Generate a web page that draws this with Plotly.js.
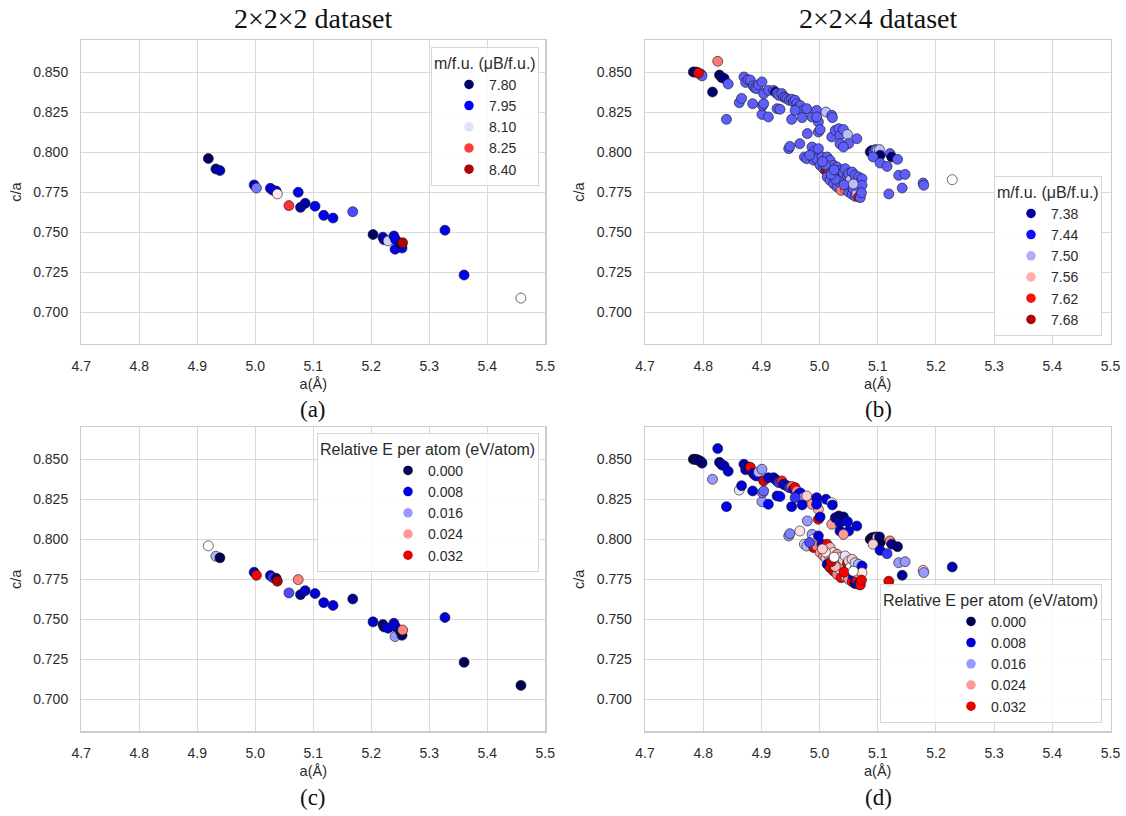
<!DOCTYPE html>
<html><head><meta charset="utf-8">
<script src="https://cdn.plot.ly/plotly-3.0.1.min.js"></script>
<style>html,body{margin:0;padding:0;background:#fff}#chart{width:1126px;height:816px}</style>
</head><body><div id="chart"></div>
<script>
// ---- 2x2x2 dataset ----
const a2 = [4.919,4.932,4.939,4.998,5.002,5.026,5.030,5.036,5.038,5.074,5.058,5.078,5.086,5.103,5.118,5.134,5.168,5.203,5.220,5.222,5.229,5.239,5.242,5.241,5.253,5.250,5.254,5.327,5.360,5.458];
const ca2 = [0.7959,0.7894,0.7884,0.7794,0.7775,0.7773,0.7761,0.7756,0.7738,0.7748,0.7665,0.7654,0.7679,0.7661,0.7604,0.7587,0.7627,0.7484,0.7467,0.7452,0.7444,0.7475,0.7452,0.7392,0.7400,0.7425,0.7433,0.7511,0.7231,0.7087];
const m2 = [7.80,7.86,7.88,7.90,8.03,7.94,7.94,7.94,8.135,7.95,8.256,7.86,7.87,7.94,7.94,7.94,8.00,7.80,7.94,7.88,8.09,7.94,7.94,7.94,7.94,7.82,8.39,7.94,7.94,8.12];
const e2 = [0.020,0.017,0.000,0.006,0.030,0.007,0.012,0.002,0.036,0.025,0.013,0.004,0.007,0.008,0.008,0.008,0.004,0.007,0.002,0.003,0.008,0.008,0.008,0.016,0.002,0.001,0.025,0.008,0.001,0.000];

// ---- 2x2x4 dataset ----
const a4 = [4.783,4.786,4.789,4.797,4.795,4.798,4.792,4.825,4.828,4.832,4.836,4.816,4.843,4.840,4.862,4.866,
4.870,4.873,4.877,4.881,4.886,4.889,4.892,4.895,4.901,4.904,4.885,4.901,4.902,4.904,4.912,4.912,4.921,4.924,4.927,4.930,
4.935,4.938,4.941,4.944,4.948,4.952,4.955,4.958,4.961,4.964,4.967,4.972,4.978,4.927,4.932,4.952,4.958,4.970,4.987,4.995,
4.998,4.995,5.011,5.021,5.022,4.979,4.998,5.001,5.021,5.027,5.033,5.035,5.041,5.048,5.050,5.064,5.035,5.041,4.947,4.949,
4.966,5.087,5.090,5.093,5.096,5.099,5.103,5.104,5.092,5.121,5.124,5.134,5.104,5.116,5.136,5.147,5.142,5.119,5.178,5.179,
5.228,4.974,4.978,4.987,4.990,4.998,4.990,4.995,5.001,5.004,5.007,5.011,5.013,5.013,5.016,5.018,5.018,5.021,5.024,5.024,
5.027,5.030,5.030,5.032,5.035,5.035,5.037,5.039,5.041,5.044,5.045,5.046,5.048,5.050,5.050,5.052,5.053,5.056,5.056,5.058,
5.060,5.061,5.061,5.064,5.064,5.067,5.067,5.070,5.070,5.073,5.073,5.072,5.010,5.027,5.042,5.020,5.005,4.983,5.025,5.058];
const ca4 = [0.8500,0.8500,0.8498,0.8483,0.8488,0.8476,0.8494,0.8567,0.8481,0.8465,0.8460,0.8375,0.8425,0.8204,0.8308,0.8335,
0.8469,0.8435,0.8452,0.8450,0.8413,0.8400,0.8396,0.8420,0.8438,0.8365,0.8302,0.8235,0.8290,0.8302,0.8219,0.8385,0.8385,0.8375,0.8365,0.8354,
0.8365,0.8344,0.8340,0.8333,0.8323,0.8330,0.8313,0.8323,0.8302,0.8281,0.8290,0.8260,0.8271,0.8271,0.8267,0.8204,0.8260,0.8215,0.8219,0.8260,
0.8188,0.8219,0.8250,0.8229,0.8215,0.8115,0.8125,0.8140,0.8094,0.8135,0.8146,0.8104,0.8140,0.8110,0.8052,0.8083,0.8052,0.8031,0.8021,0.8035,
0.8052,0.8000,0.8010,0.8000,0.8015,0.8010,0.8015,0.7979,0.7969,0.7990,0.7969,0.7954,0.7931,0.7910,0.7854,0.7860,0.7775,0.7738,0.7806,0.7792,
0.7827,0.7969,0.7958,0.8031,0.8000,0.8021,0.7948,0.7958,0.7917,0.7969,0.7896,0.7881,0.7969,0.7844,0.7900,0.7948,0.7823,0.7875,0.7917,0.7802,
0.7860,0.7906,0.7781,0.7840,0.7885,0.7810,0.7760,0.7830,0.7870,0.7896,0.7765,0.7800,0.7850,0.7865,0.7750,0.7790,0.7825,0.7875,0.7735,0.7770,
0.7810,0.7854,0.7723,0.7740,0.7790,0.7844,0.7719,0.7715,0.7813,0.7833,0.7792,0.7745,0.7920,0.7830,0.7795,0.7860,0.7940,0.7980,0.7888,0.7800];
const m4 = [7.36,7.36,7.37,7.47,7.47,7.47,7.63,7.58,7.36,7.36,7.37,7.36,7.47,7.47,7.47,7.47,
7.47,7.47,7.47,7.47,7.47,7.47,7.47,7.47,7.47,7.47,7.47,7.47,7.47,7.47,7.47,7.47,7.47,7.40,7.47,7.47,
7.47,7.47,7.47,7.47,7.47,7.47,7.47,7.47,7.47,7.47,7.47,7.47,7.47,7.47,7.47,7.47,7.47,7.47,7.47,7.47,
7.47,7.47,7.505,7.47,7.47,7.47,7.47,7.47,7.47,7.47,7.47,7.47,7.47,7.505,7.47,7.47,7.47,7.47,7.47,7.47,
7.47,7.36,7.36,7.47,7.47,7.505,7.505,7.36,7.47,7.47,7.36,7.47,7.47,7.47,7.47,7.47,7.47,7.47,7.47,7.47,
7.53,7.47,7.47,7.47,7.47,7.47,7.47,7.47,7.47,7.47,7.47,7.68,7.47,7.47,7.47,7.47,7.47,7.47,7.47,7.47,
7.47,7.47,7.47,7.47,7.47,7.47,7.58,7.47,7.47,7.47,7.58,7.47,7.47,7.47,7.47,7.47,7.505,7.47,7.47,7.47,
7.47,7.47,7.47,7.505,7.47,7.47,7.63,7.47,7.47,7.47,7.47,7.47,7.47,7.47,7.47,7.47,7.47,7.47,7.47,7.505];
const e4 = [0.000,0.000,0.001,0.001,0.002,0.003,0.002,0.008,0.004,0.005,0.006,0.016,0.007,0.009,0.019,0.008,
0.006,0.007,0.004,0.030,0.008,0.005,0.009,0.017,0.016,0.032,0.008,0.016,0.015,0.014,0.010,0.008,0.009,0.006,0.008,0.012,
0.029,0.008,0.010,0.008,0.012,0.026,0.008,0.030,0.025,0.008,0.010,0.016,0.022,0.008,0.010,0.008,0.012,0.008,0.024,0.008,
0.023,0.010,0.008,0.020,0.008,0.016,0.032,0.008,0.024,0.004,0.003,0.007,0.002,0.008,0.008,0.008,0.006,0.024,0.016,0.015,
0.021,0.000,0.000,0.004,0.001,0.022,0.003,0.000,0.022,0.025,0.004,0.002,0.008,0.012,0.016,0.016,0.004,0.032,0.022,0.016,
0.006,0.018,0.017,0.016,0.020,0.008,0.032,0.025,0.024,0.008,0.024,0.022,0.030,0.006,0.022,0.023,0.032,0.023,0.021,0.033,
0.024,0.024,0.025,0.035,0.021,0.019,0.030,0.024,0.022,0.019,0.024,0.031,0.032,0.022,0.024,0.023,0.020,0.022,0.030,0.008,
0.021,0.018,0.005,0.032,0.024,0.017,0.008,0.030,0.023,0.009,0.021,0.031,0.021,0.023,0.030,0.033,0.022,0.013,0.020,0.020];

// ---- axes ticks / legends ----
const xTicks = [4.7,4.8,4.9,5.0,5.1,5.2,5.3,5.4,5.5];
const yTicks = [0.700,0.725,0.750,0.775,0.800,0.825,0.850];
const magLegend2 = [7.80,7.95,8.10,8.25,8.40];
const magLegend4 = [7.38,7.44,7.50,7.56,7.62,7.68];
const eLegend = [0.000,0.008,0.016,0.024,0.032];
const panelTitles = ['2×2×2 dataset','2×2×4 dataset'];
const panelLabels = ['(a)','(b)','(c)','(d)'];
const magTitle = 'm/f.u. (μB/f.u.)';
const eTitle = 'Relative E per atom (eV/atom)';

// color normalisation (seismic map)
const norm = {m2:[7.78,8.46], m4:[7.34,7.72], e:[0.0,0.04]};
const seismicStops = [[0,[0,0,77]],[0.25,[0,0,255]],[0.5,[255,255,255]],[0.75,[255,0,0]],[1,[128,0,0]]];
const seismic = seismicStops.map(s=>[s[0],'rgb('+s[1].join(',')+')']);
function seis(v,lo,hi){
  let f=(v-lo)/(hi-lo); f=Math.max(0,Math.min(1,f));
  for(let i=0;i<seismicStops.length-1;i++){
    const [f0,c0]=seismicStops[i],[f1,c1]=seismicStops[i+1];
    if(f<=f1){const t=(f-f0)/(f1-f0);return 'rgb('+c0.map((c,k)=>Math.round(c+(c1[k]-c)*t)).join(',')+')';}
  }
  return 'rgb(128,0,0)';
}

const FONT = 'Liberation Sans, Arial, sans-serif';
const TXT = '#2b2b2b';
const traces = [];
function scatter(x,y,c,rng,ax){
  traces.push({type:'scatter',mode:'markers',x:x,y:y,xaxis:'x'+ax,yaxis:'y'+ax,showlegend:false,hoverinfo:'skip',
    marker:{size:10,color:c,colorscale:seismic,cmin:rng[0],cmax:rng[1],showscale:false,
      line:{color:'rgba(25,25,25,0.9)',width:0.7}}});
}
scatter(a2,ca2,m2,norm.m2,'');
scatter(a4,ca4,m4,norm.m4,'2');
scatter(a2,ca2,e2,norm.e,'3');
scatter(a4,ca4,e4,norm.e,'4');

function legendItems(vals,rng,ax,leg,fmt){
  vals.forEach(v=>traces.push({type:'scatter',mode:'markers',x:[null],y:[null],xaxis:'x'+ax,yaxis:'y'+ax,
    name:v.toFixed(fmt),legend:leg,showlegend:true,marker:{size:9.5,color:seis(v,rng[0],rng[1]),line:{width:0}}}));
}
legendItems(magLegend2,norm.m2,'','legend',2);
legendItems(magLegend4,norm.m4,'2','legend2',2);
legendItems(eLegend,norm.e,'3','legend3',3);
legendItems(eLegend,norm.e,'4','legend4',3);

const W=1126,H=816;
const xdomL=[81.3/W,545.3/W], xdomR=[645/W,1110.5/W];
const ydomT=[1-344/H,1-40/H], ydomB=[1-731.3/H,1-427.3/H];

function xax(dom,anchor){
  return {domain:dom,anchor:anchor,range:[4.7,5.5],tickvals:xTicks,tickformat:'.1f',showgrid:true,gridcolor:'#d9d9d9',gridwidth:1,
    zeroline:false,showline:true,linecolor:'#cccccc',linewidth:1.3,mirror:true,ticks:'',ticklabelstandoff:9,
    tickfont:{family:FONT,size:14,color:TXT},title:{text:'a(Å)',font:{family:FONT,size:14.5,color:TXT},standoff:5}};
}
function yax(dom,anchor){
  return {domain:dom,anchor:anchor,range:[0.68,0.87],tickvals:yTicks,tickformat:'.3f',showgrid:true,gridcolor:'#d9d9d9',gridwidth:1,
    zeroline:false,showline:true,linecolor:'#cccccc',linewidth:1.3,mirror:true,ticks:'',ticklabelstandoff:9,
    tickfont:{family:FONT,size:14,color:TXT},title:{text:'c/a',font:{family:FONT,size:14.5,color:TXT},standoff:8}};
}
function legend(x,y,ya,title,indent){
  return {x:x,y:y,xanchor:'right',yanchor:ya,xref:'paper',yref:'paper',bgcolor:'rgba(255,255,255,0.85)',
    bordercolor:'#d6d6d6',borderwidth:1,font:{family:FONT,size:14,color:TXT},indentation:indent,
    title:{text:title,font:{family:FONT,size:16,color:TXT},side:'top'},tracegroupgap:0};
}
const serif = 'Liberation Serif, Times New Roman, serif';
const ann = [];
[[313,18,panelTitles[0],28],[878,18,panelTitles[1],28],[313,409,panelLabels[0],23],[878,409,panelLabels[1],23],
 [313,797,panelLabels[2],23],[878,797,panelLabels[3],23]].forEach(([px,py,t,s])=>{
  ann.push({xref:'paper',yref:'paper',x:px/W,y:1-py/H,xanchor:'center',yanchor:'middle',text:t,showarrow:false,
    font:{family:serif,size:s,color:'#111'}});
});

const layout = {width:W,height:H,margin:{l:0,r:0,t:0,b:0},paper_bgcolor:'#fff',plot_bgcolor:'#fff',
  xaxis:xax(xdomL,'y'),yaxis:yax(ydomT,'x'),
  xaxis2:xax(xdomR,'y2'),yaxis2:yax(ydomT,'x2'),
  xaxis3:xax(xdomL,'y3'),yaxis3:yax(ydomB,'x3'),
  xaxis4:xax(xdomR,'y4'),yaxis4:yax(ydomB,'x4'),
  legend:legend(539/W,1-47/H,'top',magTitle,17),
  legend2:legend(1102/W,1-336/H,'bottom',magTitle,16),
  legend3:legend(539/W,1-433/H,'top',eTitle,70),
  legend4:legend(1102/W,1-723/H,'bottom',eTitle,70),
  annotations:ann,showlegend:true};
Plotly.newPlot('chart',traces,layout,{staticPlot:true,displayModeBar:false});
</script></body></html>
